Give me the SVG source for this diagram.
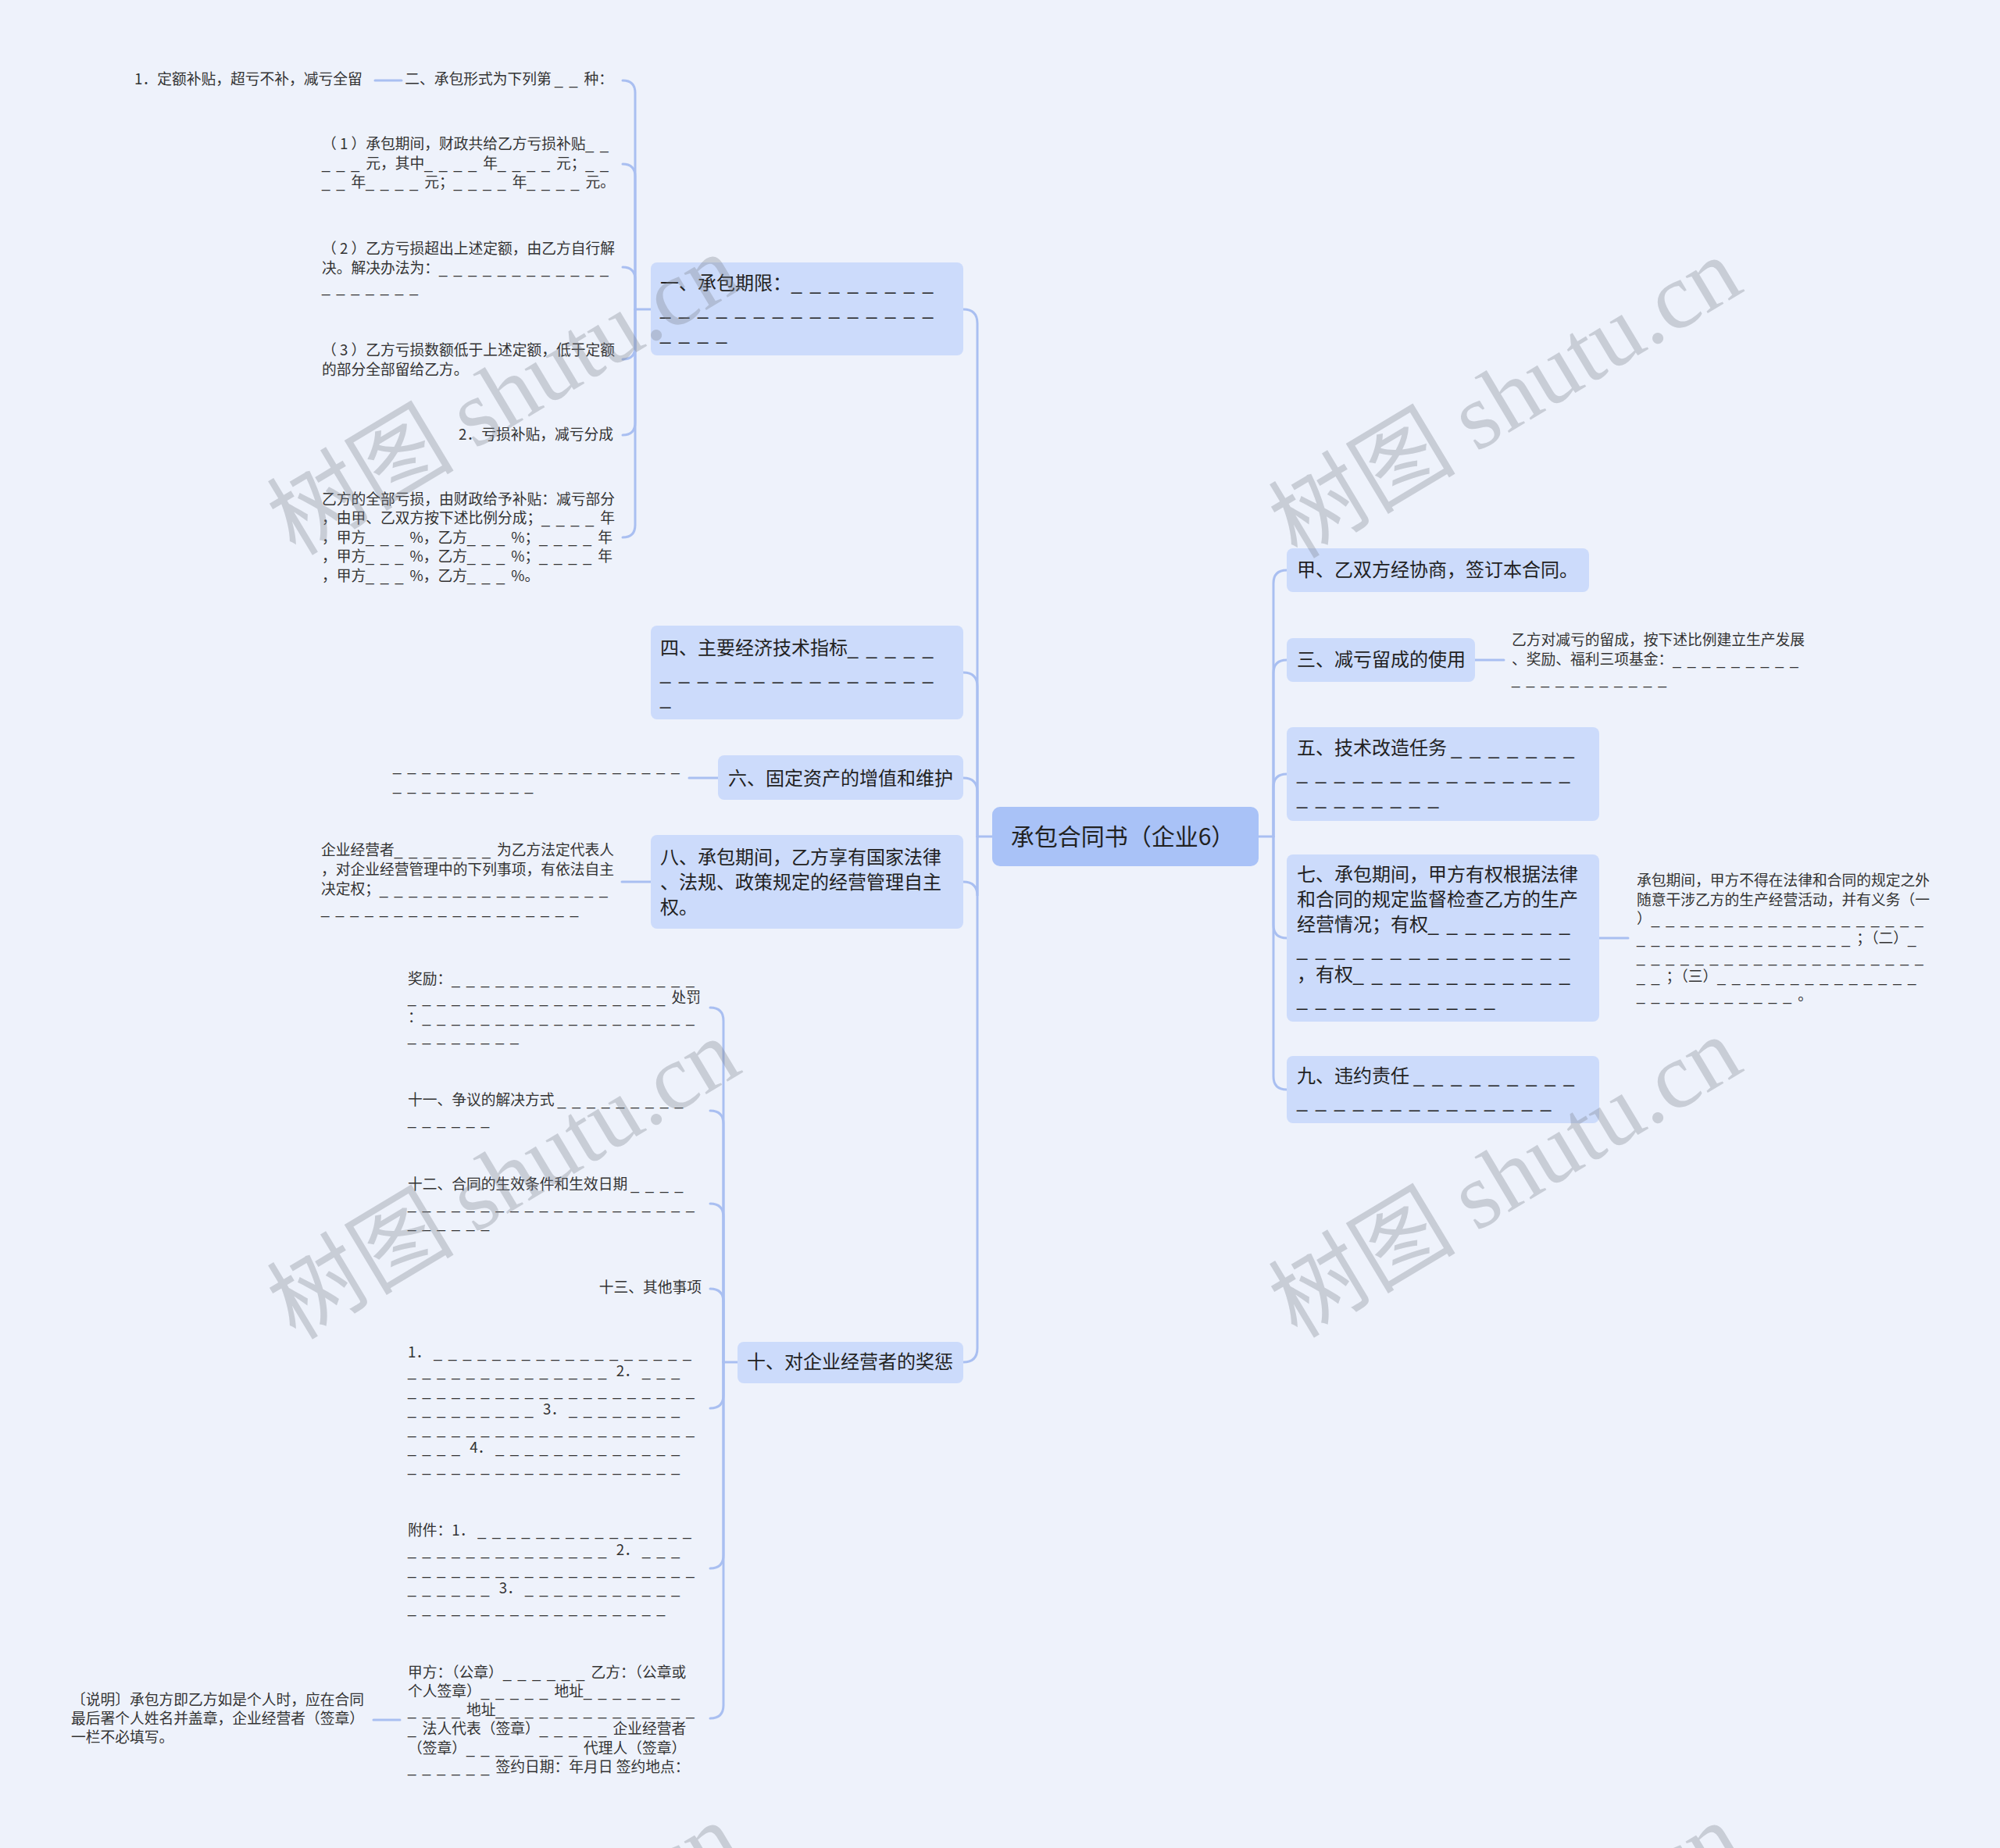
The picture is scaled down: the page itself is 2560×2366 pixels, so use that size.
<svg xmlns="http://www.w3.org/2000/svg" width="2560" height="2366" viewBox="0 0 2560 2366">
<style>
text{font-family:"Noto Sans CJK SC","Noto Sans",sans-serif}
.m{font-size:24px;fill:#222}
.l{font-size:18.75px;fill:#333}
.r{font-size:30px;fill:#222;text-anchor:middle}
.d{font-family:"Liberation Sans",sans-serif;letter-spacing:0.444em}
.e{text-anchor:end}
.nb{fill:#ccdbfb}
.rb{fill:#a9c2f7}
.c path{fill:none;stroke:#a9bff1;stroke-width:3;stroke-linecap:round}
text.wm{font-size:120px;fill:#7d838e;opacity:.33;text-anchor:middle}
.ws{font-family:"Liberation Serif","DejaVu Serif",serif}
</style>
<rect width="2560" height="2366" fill="#eef2fb"/>
<g class="c" id="connectors">
<path d="M1270,1071H1251"/>
<path d="M1251,1071V414Q1251,396 1233,396"/>
<path d="M1251,1071V879Q1251,861 1233,861"/>
<path d="M1251,1071V1014Q1251,996 1233,996"/>
<path d="M1251,1071V1147Q1251,1129 1233,1129"/>
<path d="M1251,1071V1726Q1251,1744 1233,1744"/>
<path d="M1611,1071H1630"/>
<path d="M1630,1071V747Q1630,730 1647,730"/>
<path d="M1630,1071V862Q1630,845 1647,845"/>
<path d="M1630,1071V1008Q1630,991 1647,991"/>
<path d="M1630,1071V1184Q1630,1201 1647,1201"/>
<path d="M1630,1071V1378Q1630,1395 1647,1395"/>
<path d="M833,396H813"/>
<path d="M813,396V119Q813,103 797,103"/>
<path d="M813,396V226Q813,210 797,210"/>
<path d="M813,396V358Q813,342 797,342"/>
<path d="M813,396V444Q813,460 797,460"/>
<path d="M813,396V541Q813,557 797,557"/>
<path d="M813,396V672Q813,688 797,688"/>
<path d="M944,1744H926"/>
<path d="M926,1744V1307Q926,1290 909,1290"/>
<path d="M926,1744V1439Q926,1422 909,1422"/>
<path d="M926,1744V1558Q926,1541 909,1541"/>
<path d="M926,1744V1667Q926,1650 909,1650"/>
<path d="M926,1744V1786Q926,1803 909,1803"/>
<path d="M926,1744V1991Q926,2008 909,2008"/>
<path d="M926,1744V2183Q926,2200 909,2200"/>
<path d="M919,996H882"/>
<path d="M834,1129H796"/>
<path d="M514,103H480"/>
<path d="M512,2202H478"/>
<path d="M1888,845H1925"/>
<path d="M2046,1201H2084"/>
</g>
<g id="root"><rect class="rb" x="1270" y="1033" width="341" height="76" rx="10"/><text class="r" x="1437" y="1082">承包合同书（企业6）</text></g>
<g id="n1"><rect class="nb" x="833" y="336" width="400" height="119" rx="8"/><text class="m" x="845" y="371">一、承包期限：<tspan class="d">________</tspan></text><text class="m" x="845" y="403"><tspan class="d">_______________</tspan></text><text class="m" x="845" y="435"><tspan class="d">____</tspan></text></g>
<g id="n4"><rect class="nb" x="833" y="801" width="400" height="120" rx="8"/><text class="m" x="845" y="838">四、主要经济技术指标<tspan class="d">_____</tspan></text><text class="m" x="845" y="870"><tspan class="d">_______________</tspan></text><text class="m" x="845" y="902"><tspan class="d">_</tspan></text></g>
<g id="n6"><rect class="nb" x="919" y="967" width="314" height="57" rx="8"/><text class="m" x="932" y="1005">六、固定资产的增值和维护</text></g>
<g id="n8"><rect class="nb" x="833" y="1069" width="400" height="120" rx="8"/><text class="m" x="845" y="1106">八、承包期间，乙方享有国家法律</text><text class="m" x="845" y="1138">、法规、政策规定的经营管理自主</text><text class="m" x="845" y="1170">权。</text></g>
<g id="n10"><rect class="nb" x="944" y="1718" width="289" height="53" rx="8"/><text class="m" x="956" y="1752">十、对企业经营者的奖惩</text></g>
<g id="nj"><rect class="nb" x="1647" y="702" width="387" height="56" rx="8"/><text class="m" x="1660" y="738">甲、乙双方经协商，签订本合同。</text></g>
<g id="n3"><rect class="nb" x="1647" y="817" width="241" height="56" rx="8"/><text class="m" x="1660" y="853">三、减亏留成的使用</text></g>
<g id="n5"><rect class="nb" x="1647" y="931" width="400" height="120" rx="8"/><text class="m" x="1660" y="966">五、技术改造任务 <tspan class="d">_______</tspan></text><text class="m" x="1660" y="998"><tspan class="d">_______________</tspan></text><text class="m" x="1660" y="1030"><tspan class="d">________</tspan></text></g>
<g id="n7"><rect class="nb" x="1647" y="1094" width="400" height="214" rx="8"/><text class="m" x="1660" y="1128">七、承包期间，甲方有权根据法律</text><text class="m" x="1660" y="1160">和合同的规定监督检查乙方的生产</text><text class="m" x="1660" y="1192">经营情况；有权<tspan class="d">________</tspan></text><text class="m" x="1660" y="1224"><tspan class="d">_______________</tspan></text><text class="m" x="1660" y="1256">，有权<tspan class="d">____________</tspan></text><text class="m" x="1660" y="1288"><tspan class="d">___________</tspan></text></g>
<g id="n9"><rect class="nb" x="1647" y="1352" width="400" height="86" rx="8"/><text class="m" x="1660" y="1386">九、违约责任 <tspan class="d">_________</tspan></text><text class="m" x="1660" y="1418"><tspan class="d">______________</tspan></text></g>
<g id="l1a"><text class="l e" x="785" y="108">二、承包形式为下列第 <tspan class="d">__</tspan>种：</text></g>
<g id="l1a1"><text class="l" x="172" y="108">1．定额补贴，超亏不补，减亏全留</text></g>
<g id="l1b"><text class="l" x="412" y="191">（ 1 ）承包期间，财政共给乙方亏损补贴<tspan class="d">__</tspan></text><text class="l" x="412" y="216"><tspan class="d">___</tspan>元，其中<tspan class="d">____</tspan>年<tspan class="d">____</tspan>元；<tspan class="d">__</tspan></text><text class="l" x="412" y="240"><tspan class="d">__</tspan>年<tspan class="d">____</tspan>元；<tspan class="d">____</tspan>年<tspan class="d">____</tspan>元。</text></g>
<g id="l1c"><text class="l" x="412" y="325">（ 2 ）乙方亏损超出上述定额，由乙方自行解</text><text class="l" x="412" y="350">决。解决办法为：<tspan class="d">____________</tspan></text><text class="l" x="412" y="374"><tspan class="d">_______</tspan></text></g>
<g id="l1d"><text class="l" x="412" y="455">（ 3 ）乙方亏损数额低于上述定额，低于定额</text><text class="l" x="412" y="480">的部分全部留给乙方。</text></g>
<g id="l1e"><text class="l e" x="785" y="563">2．亏损补贴，减亏分成</text></g>
<g id="l1f"><text class="l" x="412" y="646">乙方的全部亏损，由财政给予补贴：减亏部分</text><text class="l" x="412" y="670">，由甲、乙双方按下述比例分成；<tspan class="d">____</tspan>年</text><text class="l" x="412" y="695">，甲方<tspan class="d">___</tspan>%，乙方<tspan class="d">___</tspan>%；<tspan class="d">____</tspan>年</text><text class="l" x="412" y="719">，甲方<tspan class="d">___</tspan>%，乙方<tspan class="d">___</tspan>%；<tspan class="d">____</tspan>年</text><text class="l" x="412" y="744">，甲方<tspan class="d">___</tspan>%，乙方<tspan class="d">___</tspan>%。</text></g>
<g id="l6"><text class="l" x="503" y="987"><tspan class="d">____________________</tspan></text><text class="l" x="503" y="1012"><tspan class="d">__________</tspan></text></g>
<g id="l8"><text class="l" x="411" y="1095">企业经营者<tspan class="d">_______</tspan>为乙方法定代表人</text><text class="l" x="411" y="1120">，对企业经营管理中的下列事项，有依法自主</text><text class="l" x="411" y="1145">决定权；<tspan class="d">________________</tspan></text><text class="l" x="411" y="1170"><tspan class="d">__________________</tspan></text></g>
<g id="l10a"><text class="l" x="522" y="1260">奖励：<tspan class="d">_________________</tspan></text><text class="l" x="522" y="1284"><tspan class="d">__________________</tspan>处罚</text><text class="l" x="522" y="1309">：<tspan class="d">___________________</tspan></text><text class="l" x="522" y="1333"><tspan class="d">________</tspan></text></g>
<g id="l10b"><text class="l" x="522" y="1415">十一、争议的解决方式 <tspan class="d">_________</tspan></text><text class="l" x="522" y="1440"><tspan class="d">______</tspan></text></g>
<g id="l10c"><text class="l" x="522" y="1523">十二、合同的生效条件和生效日期 <tspan class="d">____</tspan></text><text class="l" x="522" y="1548"><tspan class="d">____________________</tspan></text><text class="l" x="522" y="1572"><tspan class="d">______</tspan></text></g>
<g id="l10d"><text class="l e" x="898" y="1655">十三、其他事项</text></g>
<g id="l10e"><text class="l" x="522" y="1738">1． <tspan class="d">__________________</tspan></text><text class="l" x="522" y="1762"><tspan class="d">______________</tspan> 2． <tspan class="d">___</tspan></text><text class="l" x="522" y="1787"><tspan class="d">____________________</tspan></text><text class="l" x="522" y="1811"><tspan class="d">_________</tspan> 3． <tspan class="d">________</tspan></text><text class="l" x="522" y="1836"><tspan class="d">____________________</tspan></text><text class="l" x="522" y="1860"><tspan class="d">____</tspan> 4． <tspan class="d">_____________</tspan></text><text class="l" x="522" y="1884"><tspan class="d">___________________</tspan></text></g>
<g id="l10f"><text class="l" x="522" y="1966">附件：1． <tspan class="d">_______________</tspan></text><text class="l" x="522" y="1991"><tspan class="d">______________</tspan> 2． <tspan class="d">___</tspan></text><text class="l" x="522" y="2016"><tspan class="d">____________________</tspan></text><text class="l" x="522" y="2040"><tspan class="d">______</tspan> 3． <tspan class="d">___________</tspan></text><text class="l" x="522" y="2065"><tspan class="d">__________________</tspan></text></g>
<g id="l10g"><text class="l" x="522" y="2148">甲方：（公章）<tspan class="d">______</tspan>乙方：（公章或</text><text class="l" x="522" y="2172">个人签章）<tspan class="d">_____</tspan>地址<tspan class="d">_______</tspan></text><text class="l" x="522" y="2196"><tspan class="d">____</tspan>地址<tspan class="d">______________</tspan></text><text class="l" x="522" y="2220"><tspan class="d">_</tspan>法人代表（签章）<tspan class="d">_____</tspan>企业经营者</text><text class="l" x="522" y="2245">（签章）<tspan class="d">________</tspan>代理人（签章）</text><text class="l" x="522" y="2269"><tspan class="d">______</tspan>签约日期：年月日 签约地点：</text></g>
<g id="l10g1"><text class="l" x="91" y="2183">〔说明〕承包方即乙方如是个人时，应在合同</text><text class="l" x="91" y="2207">最后署个人姓名并盖章，企业经营者（签章）</text><text class="l" x="91" y="2231">一栏不必填写。</text></g>
<g id="l3"><text class="l" x="1935" y="826">乙方对减亏的留成，按下述比例建立生产发展</text><text class="l" x="1935" y="851">、奖励、福利三项基金：<tspan class="d">_________</tspan></text><text class="l" x="1935" y="876"><tspan class="d">___________</tspan></text></g>
<g id="l7"><text class="l" x="2095" y="1134">承包期间，甲方不得在法律和合同的规定之外</text><text class="l" x="2095" y="1159">随意干涉乙方的生产经营活动，并有义务（一</text><text class="l" x="2095" y="1183">）<tspan class="d">___________________</tspan></text><text class="l" x="2095" y="1208"><tspan class="d">_______________</tspan>；（二）<tspan class="d">_</tspan></text><text class="l" x="2095" y="1232"><tspan class="d">____________________</tspan></text><text class="l" x="2095" y="1257"><tspan class="d">__</tspan>；（三）<tspan class="d">______________</tspan></text><text class="l" x="2095" y="1281"><tspan class="d">___________</tspan>。</text></g>
<g id="watermarks">
<text class="wm" transform="translate(645,506) rotate(-31)" y="40">树图 <tspan class="ws">shutu.cn</tspan></text>
<text class="wm" transform="translate(1927,510) rotate(-31)" y="40">树图 <tspan class="ws">shutu.cn</tspan></text>
<text class="wm" transform="translate(645,1510) rotate(-31)" y="40">树图 <tspan class="ws">shutu.cn</tspan></text>
<text class="wm" transform="translate(1927,1508) rotate(-31)" y="40">树图 <tspan class="ws">shutu.cn</tspan></text>
<text class="wm" transform="translate(645,2514) rotate(-31)" y="40">树图 <tspan class="ws">shutu.cn</tspan></text>
<text class="wm" transform="translate(1927,2514) rotate(-31)" y="40">树图 <tspan class="ws">shutu.cn</tspan></text>
</g>
</svg>
